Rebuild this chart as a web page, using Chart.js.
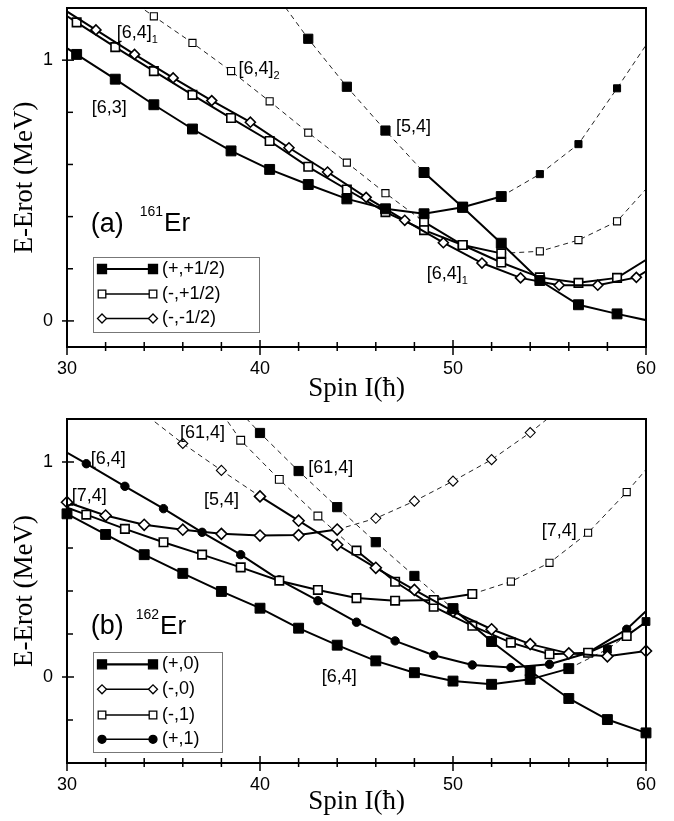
<!DOCTYPE html>
<html lang="en">
  <head>
    <meta charset="utf-8" />
    <script src="https://cdn.jsdelivr.net/npm/chart.js"></script>
    <title>Er routhians</title>
    <style>
      body { margin: 0; background: #fff; }
      .panel { position: relative; width: 674px; }
    </style>
  </head>
  <body>
    <div class="panel" style="height: 410px"><canvas id="chartA"></canvas></div>
    <div class="panel" style="height: 411px"><canvas id="chartB"></canvas></div>
    <script>
      // ---------- panel (a): 161Er ----------
      // (+,+1/2) filled squares
      const a63Spin = [28.5, 30.5, 32.5, 34.5, 36.5, 38.5, 40.5, 42.5, 44.5, 46.5, 48.5, 50.5, 52.5];
      const a63E = [1.117, 1.022, 0.927, 0.829, 0.736, 0.652, 0.581, 0.523, 0.468, 0.43, 0.411, 0.436, 0.477];
      const a63UpSpin = [52.5, 54.5, 56.5, 58.5, 60.5];
      const a63UpE = [0.477, 0.563, 0.678, 0.892, 1.113];
      const a54DnSpin = [40.5, 42.5, 44.5, 46.5, 48.5];
      const a54DnE = [1.285, 1.082, 0.898, 0.73, 0.569];
      const a54Spin = [48.5, 50.5, 52.5, 54.5, 56.5, 58.5, 60.5];
      const a54E = [0.569, 0.436, 0.298, 0.155, 0.062, 0.027, -0.005];
      // (-,+1/2) open squares
      const a641Spin = [28.5, 30.5, 32.5, 34.5, 36.5, 38.5, 40.5, 42.5, 44.5, 46.5, 48.5, 50.5, 52.5, 54.5, 56.5, 58.5, 60.5];
      const a641E = [1.24, 1.145, 1.05, 0.958, 0.867, 0.778, 0.69, 0.591, 0.504, 0.417, 0.348, 0.291, 0.224, 0.167, 0.146, 0.165, 0.257];
      const a642DnSpin = [32.5, 34.5, 36.5, 38.5, 40.5, 42.5, 44.5, 46.5, 48.5];
      const a642DnE = [1.27, 1.168, 1.066, 0.958, 0.842, 0.722, 0.607, 0.49, 0.38];
      const a642Spin = [48.5, 50.5, 52.5];
      const a642E = [0.38, 0.291, 0.259];
      const a642UpSpin = [52.5, 54.5, 56.5, 58.5, 60.5];
      const a642UpE = [0.259, 0.267, 0.31, 0.382, 0.547];
      // (-,-1/2) open diamonds
      const aDiaSpin = [29.5, 31.5, 33.5, 35.5, 37.5, 39.5, 41.5, 43.5, 45.5, 47.5, 49.5, 51.5, 53.5, 55.5, 57.5, 59.5, 61.5];
      const aDiaE = [1.21, 1.116, 1.022, 0.932, 0.845, 0.762, 0.664, 0.571, 0.474, 0.386, 0.3, 0.222, 0.165, 0.137, 0.137, 0.167, 0.26];
      const aLegend = ["(+,+1/2)", "(-,+1/2)", "(-,-1/2)"];
      const aYTicks = [0, 0.2, 0.4, 0.6, 0.8, 1.0];

      // ---------- panel (b): 162Er ----------
      // (+,0) filled squares
      const b64Spin = [30, 32, 34, 36, 38, 40, 42, 44, 46, 48, 50, 52, 54, 56];
      const b64E = [0.759, 0.663, 0.569, 0.482, 0.398, 0.32, 0.227, 0.148, 0.075, 0.02, -0.019, -0.034, -0.011, 0.039];
      const b64UpSpin = [56, 58, 60];
      const b64UpE = [0.039, 0.129, 0.258];
      const b614DnSpin = [38, 40, 42, 44, 46, 48, 50];
      const b614DnE = [1.325, 1.135, 0.958, 0.79, 0.627, 0.47, 0.318];
      const b614Spin = [50, 52, 54, 56, 58, 60];
      const b614E = [0.318, 0.165, 0.028, -0.1, -0.198, -0.26];
      // (-,0) open diamonds
      const b74Spin = [30, 32, 34, 36, 38, 40, 42, 44];
      const b74E = [0.813, 0.751, 0.708, 0.685, 0.666, 0.658, 0.66, 0.686];
      const b74UpSpin = [44, 46, 48, 50, 52, 54, 56];
      const b74UpE = [0.686, 0.738, 0.818, 0.911, 1.011, 1.137, 1.28];
      const b54DnSpin = [32, 34, 36, 38, 40];
      const b54DnE = [1.37, 1.225, 1.086, 0.961, 0.84];
      const b54Spin = [40, 42, 44, 46, 48, 50, 52, 54, 56, 58, 60];
      const b54E = [0.84, 0.727, 0.615, 0.508, 0.405, 0.305, 0.222, 0.153, 0.11, 0.096, 0.121];
      // (-,1) open squares
      const b74sqSpin = [29, 31, 33, 35, 37, 39, 41, 43, 45, 47, 49, 51];
      const b74sqE = [0.82, 0.755, 0.689, 0.627, 0.569, 0.51, 0.448, 0.405, 0.367, 0.355, 0.358, 0.386];
      const b74sqUpSpin = [51, 53, 55, 57, 59, 61];
      const b74sqUpE = [0.386, 0.444, 0.531, 0.671, 0.86, 1.07];
      const b614sqDnSpin = [37, 39, 41, 43, 45];
      const b614sqDnE = [1.36, 1.101, 0.919, 0.749, 0.588];
      const b614sqSpin = [45, 47, 49, 51, 53, 55, 57, 59, 61];
      const b614sqE = [0.588, 0.443, 0.327, 0.238, 0.16, 0.106, 0.113, 0.191, 0.32];
      // (+,1) filled circles
      const bDotSpin = [29, 31, 33, 35, 37, 39, 41, 43, 45, 47, 49, 51, 53, 55, 57, 59, 61];
      const bDotE = [1.095, 0.992, 0.887, 0.783, 0.673, 0.569, 0.452, 0.355, 0.255, 0.168, 0.101, 0.056, 0.044, 0.059, 0.113, 0.222, 0.39];
      const bLegend = ["(+,0)", "(-,0)", "(-,1)", "(+,1)"];
      const bYTicks = [-0.2, 0, 0.2, 0.4, 0.6, 0.8, 1.0];

      const xTicks = [30, 32, 34, 36, 38, 40, 42, 44, 46, 48, 50, 52, 54, 56, 58, 60];

      const SANS = "'Liberation Sans', Arial, sans-serif";
      const SERIF = "'Liberation Serif', 'Times New Roman', serif";

      // marker: fill | open | dia | dot ; kind: solid | dash
      function series(spin, energy, marker, kind, r, extra) {
        const dashed = kind === "dash";
        const filled = marker === "fill" || marker === "dot";
        return Object.assign(
          {
            data: spin.map((s, i) => ({ x: s, y: energy[i] })),
            borderColor: dashed ? "#222" : "#000",
            borderWidth: dashed ? 1 : 2,
            borderDash: dashed ? [5, 4] : [],
            pointStyle: marker === "dot" ? "circle" : marker === "dia" ? "rectRot" : "rect",
            pointRadius: r,
            pointBackgroundColor: filled ? "#000" : "#fff",
            pointBorderColor: "#000",
            pointBorderWidth: filled ? 1 : dashed ? 1.1 : 1.6,
            tension: 0,
            fill: false,
          },
          extra || {}
        );
      }

      // text labels placed in data coordinates
      const notes = {
        id: "notes",
        afterDatasetsDraw(chart, args, opts) {
          const { ctx, scales } = chart;
          ctx.save();
          ctx.fillStyle = "#000";
          ctx.textBaseline = "middle";
          ctx.textAlign = "left";
          opts.items.forEach((n) => {
            let px = scales.x.getPixelForValue(n.x);
            const py = scales.y.getPixelForValue(n.y);
            n.parts.forEach(([txt, size, dy, gap]) => {
              px += gap || 0;
              ctx.font = size + "px " + SANS;
              ctx.fillText(txt, px, py + dy);
              px += ctx.measureText(txt).width;
            });
          });
          ctx.restore();
        },
      };

      // frame, inward ticks and the legend box
      const frame = {
        id: "frame",
        afterDraw(chart, args, opts) {
          const { ctx, chartArea: a, scales } = chart;
          ctx.save();
          ctx.strokeStyle = "#000";
          ctx.lineWidth = 2;
          ctx.strokeRect(a.left, a.top, a.right - a.left, a.bottom - a.top);
          ctx.lineWidth = 1.5;
          scales.x.ticks.forEach((t) => {
            const px = scales.x.getPixelForValue(t.value);
            const big = t.value % 10 === 0;
            ctx.beginPath();
            ctx.moveTo(px, a.bottom - (big ? 7 : 5));
            ctx.lineTo(px, a.bottom + (big ? 8 : 4));
            ctx.stroke();
          });
          scales.y.ticks.forEach((t) => {
            const py = scales.y.getPixelForValue(t.value);
            const big = Math.abs(t.value - Math.round(t.value)) < 1e-9;
            ctx.beginPath();
            ctx.moveTo(a.left - (big ? 5 : 0), py);
            ctx.lineTo(a.left + (big ? 7 : 6), py);
            ctx.stroke();
          });

          const k = opts.key;
          ctx.fillStyle = "#fff";
          ctx.fillRect(k.box[0], k.box[1], k.box[2], k.box[3]);
          ctx.strokeStyle = "#777";
          ctx.lineWidth = 1;
          ctx.strokeRect(k.box[0] + 0.5, k.box[1] + 0.5, k.box[2], k.box[3]);
          k.rows.forEach((row, i) => {
            const y = k.rowY[i];
            ctx.strokeStyle = "#000";
            ctx.lineWidth = row.marker === "fill" ? 2.2 : 1.5;
            ctx.beginPath();
            ctx.moveTo(k.x1, y);
            ctx.lineTo(k.x2, y);
            ctx.stroke();
            [k.x1, k.x2].forEach((mx) => keyMarker(ctx, row.marker, mx, y));
            ctx.fillStyle = "#000";
            ctx.font = "18px " + SANS;
            ctx.textBaseline = "middle";
            ctx.fillText(row.text, k.textX, y);
          });
          ctx.restore();
        },
      };

      function keyMarker(ctx, marker, x, y) {
        ctx.beginPath();
        if (marker === "dot") ctx.arc(x, y, 4, 0, Math.PI * 2);
        else if (marker === "dia") {
          ctx.moveTo(x - 4.5, y);
          ctx.lineTo(x, y - 4.5);
          ctx.lineTo(x + 4.5, y);
          ctx.lineTo(x, y + 4.5);
          ctx.closePath();
        } else if (marker === "fill") ctx.rect(x - 4.5, y - 4.5, 9, 9);
        else ctx.rect(x - 3.8, y - 3.8, 7.6, 7.6);
        ctx.fillStyle = marker === "fill" || marker === "dot" ? "#000" : "#fff";
        ctx.fill();
        ctx.strokeStyle = "#000";
        ctx.lineWidth = 1.3;
        ctx.stroke();
      }

      function makeChart(id, datasets, cfg) {
        return new Chart(document.getElementById(id), {
          type: "line",
          data: { datasets: datasets },
          options: {
            animation: false,
            responsive: true,
            maintainAspectRatio: false,
            layout: { padding: { top: cfg.top, right: 28, left: 0, bottom: 0 } },
            plugins: {
              legend: { display: false },
              tooltip: { enabled: false },
              notes: { items: cfg.notes },
              frame: { key: cfg.key },
            },
            scales: {
              x: {
                type: "linear",
                min: 30,
                max: 60,
                afterBuildTicks: (s) => {
                  s.ticks = xTicks.map((v) => ({ value: v }));
                },
                afterFit: (s) => {
                  s.height = cfg.xH;
                },
                grid: { display: false, drawTicks: false },
                border: { display: false },
                ticks: {
                  autoSkip: false,
                  maxRotation: 0,
                  padding: 11,
                  color: "#000",
                  font: { family: SANS, size: 18 },
                  callback: (v) => (v % 10 === 0 ? String(v) : ""),
                },
                title: {
                  display: true,
                  text: "Spin I(ħ)",
                  color: "#000",
                  font: { family: SERIF, size: 27 },
                  padding: { top: 0, bottom: cfg.xTitlePad },
                },
              },
              y: {
                min: cfg.yMin,
                max: 1.2,
                afterBuildTicks: (s) => {
                  s.ticks = cfg.yTicks.map((v) => ({ value: v }));
                },
                afterFit: (s) => {
                  s.width = 67;
                  s.paddingTop = 0;
                  s.paddingBottom = 0;
                },
                grid: { display: false, drawTicks: false },
                border: { display: false },
                ticks: {
                  padding: 14,
                  color: "#000",
                  font: { family: SANS, size: 18 },
                  callback: (v) =>
                    Math.abs(v - Math.round(v)) < 1e-9 ? String(Math.round(v)) : "",
                },
                title: {
                  display: true,
                  text: "E-Erot (MeV)",
                  color: "#000",
                  font: { family: SERIF, size: 27 },
                  padding: { top: 9, bottom: 0 },
                },
              },
            },
          },
          plugins: [notes, frame],
        });
      }

      makeChart(
        "chartA",
        [
          series(a63Spin, a63E, "fill", "solid", 7),
          series(a54Spin, a54E, "fill", "solid", 7),
          series(aDiaSpin, aDiaE, "dia", "solid", 5),
          series(a641Spin, a641E, "open", "solid", 6),
          series(a642Spin, a642E, "open", "solid", 6),
          series(a63UpSpin, a63UpE, "fill", "dash", 5),
          series(a54DnSpin, a54DnE, "fill", "dash", 6.5),
          series(a642DnSpin, a642DnE, "open", "dash", 5),
          series(a642UpSpin, a642UpE, "open", "dash", 5),
        ],
        {
          top: 6,
          xH: 63,
          xTitlePad: 5,
          yMin: -0.1,
          yTicks: aYTicks,
          notes: [
            { x: 32.58, y: 1.103, parts: [["[6,4]", 18, 0], ["1", 11, 7]] },
            { x: 38.88, y: 0.967, parts: [["[6,4]", 18, 0], ["2", 11, 7]] },
            { x: 31.28, y: 0.816, parts: [["[6,3]", 18, 0]] },
            { x: 47.05, y: 0.743, parts: [["[5,4]", 18, 0]] },
            { x: 48.64, y: 0.181, parts: [["[6,4]", 18, 0], ["1", 11, 7]] },
            { x: 31.23, y: 0.371, parts: [["(a)", 27, 0], ["161", 14, -12, 16], ["Er", 26, 0, 1]] },
          ],
          key: {
            box: [93, 257, 166, 75],
            rowY: [269, 294, 318.5],
            x1: 102,
            x2: 153,
            textX: 162,
            rows: [
              { marker: "fill", text: aLegend[0] },
              { marker: "open", text: aLegend[1] },
              { marker: "dia", text: aLegend[2] },
            ],
          },
        }
      );

      const edge = { clip: { left: 8, right: 8, top: 0, bottom: 0 } };
      makeChart(
        "chartB",
        [
          series(b64Spin, b64E, "fill", "solid", 7, edge),
          series(b614Spin, b614E, "fill", "solid", 7, edge),
          series(b74Spin, b74E, "dia", "solid", 5.5, edge),
          series(b54Spin, b54E, "dia", "solid", 5.5, edge),
          series(b74sqSpin, b74sqE, "open", "solid", 6),
          series(b614sqSpin, b614sqE, "open", "solid", 6),
          series(bDotSpin, bDotE, "dot", "solid", 4.2),
          series(b64UpSpin, b64UpE, "fill", "dash", 5.5, edge),
          series(b614DnSpin, b614DnE, "fill", "dash", 6.5, edge),
          series(b74UpSpin, b74UpE, "dia", "dash", 5, edge),
          series(b54DnSpin, b54DnE, "dia", "dash", 5, edge),
          series(b74sqUpSpin, b74sqUpE, "open", "dash", 5),
          series(b614sqDnSpin, b614sqDnE, "open", "dash", 5.5),
        ],
        {
          top: 9,
          xH: 58,
          xTitlePad: 3,
          yMin: -0.4,
          yTicks: bYTicks,
          notes: [
            { x: 35.85, y: 1.134, parts: [["[61,4]", 18, 0]] },
            { x: 31.23, y: 1.013, parts: [["[6,4]", 18, 0]] },
            { x: 42.5, y: 0.971, parts: [["[61,4]", 18, 0]] },
            { x: 30.24, y: 0.84, parts: [["[7,4]", 18, 0]] },
            { x: 37.1, y: 0.821, parts: [["[5,4]", 18, 0]] },
            { x: 54.6, y: 0.681, parts: [["[7,4]", 18, 0]] },
            { x: 43.2, y: 0.0, parts: [["[6,4]", 18, 0]] },
            { x: 31.23, y: 0.233, parts: [["(b)", 27, 0], ["162", 14, -12, 12], ["Er", 26, 0, 1]] },
          ],
          key: {
            box: [93, 242, 129, 100],
            rowY: [254.3, 279.3, 305, 329.3],
            x1: 102,
            x2: 153,
            textX: 162,
            rows: [
              { marker: "fill", text: bLegend[0] },
              { marker: "dia", text: bLegend[1] },
              { marker: "open", text: bLegend[2] },
              { marker: "dot", text: bLegend[3] },
            ],
          },
        }
      );
    </script>
  </body>
</html>
